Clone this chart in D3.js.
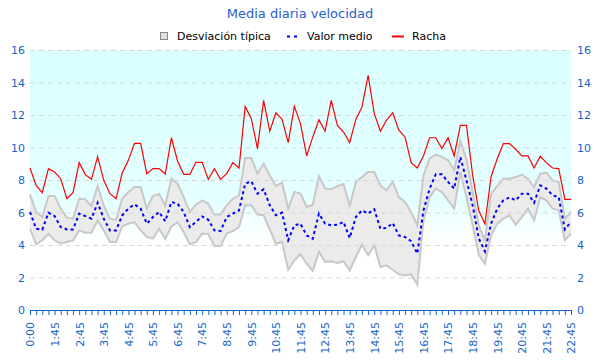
<!DOCTYPE html>
<html><head><meta charset="utf-8">
<script src="https://cdn.jsdelivr.net/npm/d3@7/dist/d3.min.js"></script>
<style>body{margin:0;background:#fff}svg{display:block}text{font-family:"DejaVu Sans",sans-serif}</style>
</head><body>
<svg id="c" width="600" height="360"></svg>
<script>
const categories = ["0:00","1:00","1:15","1:30","1:45","2:00","2:15","2:30","2:45","3:00","3:15","3:30","3:45","4:00","4:15","4:30","4:45","5:00","5:15","5:30","5:45","6:00","6:15","6:30","6:45","7:00","7:15","7:30","7:45","8:00","8:15","8:30","8:45","9:00","9:15","9:30","9:45","10:00","10:15","10:30","10:45","11:00","11:15","11:30","11:45","12:00","12:15","12:30","12:45","13:00","13:15","13:30","13:45","14:00","14:15","14:30","14:45","15:00","15:15","15:30","15:45","16:00","16:15","16:30","16:45","17:00","17:15","17:30","17:45","18:00","18:15","18:30","18:45","19:00","19:15","19:30","19:45","20:00","20:15","20:30","20:45","21:00","21:15","21:30","21:45","22:00","22:15","22:30","22:45"];
const racha = [8.74,7.67,7.22,8.70,8.49,8.08,6.85,7.22,9.07,8.33,8.04,9.44,7.98,7.16,6.85,8.43,9.21,10.26,10.26,8.37,8.70,8.70,8.37,10.60,9.17,8.35,8.35,9.09,9.09,8.04,
 8.70,8.04,8.39,9.07,8.74,12.53,11.77,9.93,12.90,11.00,12.14,11.73,10.30,12.53,11.47,9.48,10.65,11.71,11.00,12.90,11.36,10.95,10.30,11.73,12.49,14.44,12.08,11.00,11.69,12.14,
 11.06,10.65,9.07,8.74,9.48,10.60,10.60,9.93,10.60,9.48,11.36,11.36,8.30,6.10,5.30,8.20,9.31,10.24,10.24,9.89,9.48,9.48,8.74,9.46,9.07,8.74,8.70,6.81,6.81];
const valorMedio = [6.03,5.00,4.94,5.99,5.78,5.10,4.96,4.96,5.93,5.78,5.62,6.60,5.62,4.90,4.90,5.83,6.24,6.50,6.24,5.31,5.72,6.03,5.46,6.65,6.54,6.03,5.10,5.42,5.76,5.55,
 4.90,4.86,5.72,5.93,6.13,7.77,7.92,7.16,7.43,6.44,5.83,5.99,4.29,5.21,5.31,4.59,4.39,5.93,5.31,5.21,5.25,5.42,4.43,5.72,6.13,5.93,6.20,5.00,5.05,5.35,
 4.59,4.49,4.23,3.47,6.13,7.47,8.35,8.35,7.88,7.47,9.42,7.98,6.44,4.40,3.61,5.31,6.24,6.75,6.93,6.75,7.16,7.16,6.60,7.67,7.47,7.06,6.95,4.96,5.42];
const desvSup = [7.12,6.03,5.72,7.02,7.02,6.24,5.68,5.62,6.85,6.81,6.40,7.63,6.44,5.62,5.56,6.85,7.26,7.57,7.57,6.24,7.02,7.14,6.44,8.08,7.77,6.95,6.03,6.50,6.75,6.55,
 5.87,5.87,6.44,6.85,7.06,9.35,9.35,8.39,9.00,8.29,7.63,7.84,6.24,7.26,7.16,6.34,6.48,8.25,7.47,7.43,7.63,7.75,6.40,7.88,8.18,8.49,8.49,7.67,7.36,7.88,
 6.95,6.65,6.03,5.21,8.29,9.31,9.56,9.42,9.21,8.60,10.38,9.27,7.26,5.20,4.29,7.16,7.63,8.08,8.08,8.18,8.33,8.08,7.57,8.39,8.45,7.98,7.88,5.62,6.03];
const desvInf = [5.00,4.04,4.29,4.70,4.29,4.08,4.18,4.29,4.90,4.76,4.76,5.51,4.90,4.18,4.18,5.15,5.31,5.41,4.90,4.49,4.39,5.00,4.39,5.13,5.41,4.80,4.04,4.18,4.70,4.67,
 3.94,3.94,4.70,4.86,5.10,6.44,6.44,5.87,5.83,4.96,4.08,4.18,2.48,3.06,3.43,2.85,2.40,3.57,2.95,3.00,2.89,3.00,2.44,3.26,4.02,3.36,3.98,2.65,2.75,2.48,
 2.20,2.13,2.20,1.56,5.50,6.95,7.47,7.26,6.75,6.24,8.49,6.95,5.21,3.40,2.85,4.59,5.31,5.62,5.83,5.25,5.72,6.24,5.52,6.95,6.75,6.24,6.13,4.29,4.70];
const yTicks = [0,2,4,6,8,10,12,14,16];
const labelEvery = 4;

const svg = d3.select("#c");
const L = 30, R = 571, T = 50, B = 310;
const x = d3.scalePoint().domain(categories).range([L, R]).padding(0);
const y = d3.scaleLinear().domain([0, 16]).range([B, T]);
const blue = "#1565c8";

const defs = svg.append("defs");
const g = defs.append("linearGradient").attr("id","bg").attr("x1",0).attr("y1",0).attr("x2",0).attr("y2",1);
g.append("stop").attr("offset","0").attr("stop-color","#daffff");
g.append("stop").attr("offset","0.58").attr("stop-color","#e4ffff");
g.append("stop").attr("offset","0.66").attr("stop-color","#f3ffff");
g.append("stop").attr("offset","0.74").attr("stop-color","#ffffff");
svg.append("rect").attr("x",L).attr("y",T).attr("width",R-L).attr("height",B-T).attr("fill","url(#bg)");

const idx = d3.range(categories.length);
const area = d3.area().x(i => x(categories[i])).y0(i => y(desvInf[i])).y1(i => y(desvSup[i]));
svg.append("path").attr("d", area(idx)).attr("fill","#ebebeb");
const lineOf = arr => d3.line().x(i => x(categories[i])).y(i => y(arr[i]));
svg.append("path").attr("d", lineOf(desvSup)(idx)).attr("fill","none").attr("stroke","#c8c8c8").attr("stroke-width",2);
svg.append("path").attr("d", lineOf(desvInf)(idx)).attr("fill","none").attr("stroke","#c8c8c8").attr("stroke-width",2);

// grid
svg.append("g").selectAll("line").data(yTicks.filter(d => d > 0)).join("line")
  .attr("x1",L).attr("x2",R).attr("y1",d=>y(d)+0.5).attr("y2",d=>y(d)+0.5)
  .attr("stroke","#d9d9d9").attr("stroke-dasharray","5,4");

svg.append("path").attr("d", lineOf(valorMedio)(idx)).attr("fill","none").attr("stroke","#0000ff").attr("stroke-width",2).attr("stroke-dasharray","3,3");
svg.append("path").attr("d", lineOf(racha)(idx)).attr("fill","none").attr("stroke","#ff0000").attr("stroke-width",1.2);

// x axis
const xAxis = d3.axisBottom(x).tickSize(5).tickFormat((d,i) => i % labelEvery === 0 ? d : "");
const xa = svg.append("g").attr("transform",`translate(0,${B})`).call(xAxis);
xa.select(".domain").attr("stroke",blue);
xa.selectAll(".tick line").attr("stroke",blue);
xa.selectAll(".tick text").attr("fill",blue).attr("font-size",11).attr("font-family","DejaVu Sans")
  .attr("text-anchor","end").attr("transform","rotate(-90)").attr("x",-12).attr("y",0).attr("dy","0.35em");

// y labels left & right
const yl = d3.axisLeft(y).tickValues(yTicks).tickSize(0).tickPadding(5);
const yla = svg.append("g").attr("transform",`translate(${L},0)`).call(yl);
yla.select(".domain").remove();
yla.selectAll("text").attr("fill",blue).attr("font-size",11).attr("font-family","DejaVu Sans");
const yr = d3.axisRight(y).tickValues(yTicks).tickSize(0).tickPadding(6);
const yra = svg.append("g").attr("transform",`translate(${R},0)`).call(yr);
yra.select(".domain").remove();
yra.selectAll("text").attr("fill",blue).attr("font-size",11).attr("font-family","DejaVu Sans");

// title
svg.append("text").attr("x",300).attr("y",18).attr("text-anchor","middle").attr("font-size",13).attr("fill","#2a5fd0").text("Media diaria velocidad");

// legend
const lg = svg.append("g").attr("font-size",11).attr("fill","#000");
lg.append("rect").attr("x",160.5).attr("y",32.5).attr("width",7).attr("height",7).attr("fill","#e0e0e0").attr("stroke","#888");
lg.append("text").attr("x",177).attr("y",40).text("Desviación típica");
lg.append("line").attr("x1",287).attr("x2",299).attr("y1",36.5).attr("y2",36.5).attr("stroke","#0000ff").attr("stroke-width",2).attr("stroke-dasharray","3,4");
lg.append("text").attr("x",307).attr("y",40).text("Valor medio");
lg.append("line").attr("x1",392).attr("x2",404).attr("y1",36.5).attr("y2",36.5).attr("stroke","#ff0000").attr("stroke-width",2);
lg.append("text").attr("x",412).attr("y",40).text("Racha");
</script>
</body></html>
